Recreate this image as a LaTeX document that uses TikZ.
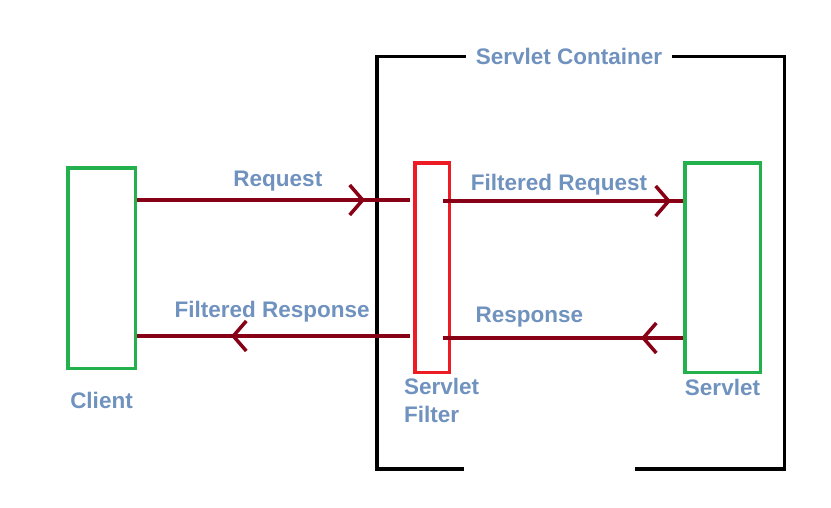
\documentclass[tikz,border=0pt]{standalone}
\usepackage{fontspec}
\setmainfont{Liberation Sans}
\usetikzlibrary{positioning,arrows.meta,decorations.markings}
\definecolor{flowred}{HTML}{880015}
\definecolor{boxgreen}{HTML}{22B14C}
\definecolor{boxred}{HTML}{ED1C24}
\definecolor{labelblue}{HTML}{7092BE}

\begin{document}
\begin{tikzpicture}[x=1pt, y=-1pt,
  box/.style={draw, line width=3.5pt, inner sep=0pt},
  wall/.style={draw=black, line width=3.5pt},
  txt/.style={text=labelblue, inner sep=0pt,
    font=\fontsize{22.5}{28}\selectfont\bfseries},
  flow/.style={draw=flowred, line width=3.5pt},
  tipat/.style={postaction={decorate}, decoration={markings,
    mark=at position #1 with {\arrow{Straight Barb[length=13pt,width=30pt]}}}}]
  \useasboundingbox (0,0) rectangle (831,507);

  % boxes
  \node[box, draw=boxgreen, minimum width=67.5pt, minimum height=200.5pt] (client) at (101.5,268) {};
  \node[box, draw=boxred, minimum width=34.5pt, minimum height=209.5pt] (filter) at (432,267.5) {};
  \node[box, draw=boxgreen, minimum width=75.5pt, minimum height=209.5pt] (servlet) at (722.5,267.5) {};

  % container
  \node[txt, inner xsep=10pt] (title) at (569,56.5) {Servlet Container};
  \draw[wall] (title.west) -| (377,469) -- (464,469);
  \draw[wall] (635,469) -| (784.5,56.5) -- (title.east);

  % requests
  \draw[flow, tipat=228pt] (client.east |- 0,200) -- ([xshift=-3pt]filter.west |- 0,200)
    node[txt, pos=0.516, anchor=base, yshift=14pt] {Request};
  \draw[flow, tipat=228pt] ([xshift=-8pt]filter.east |- 0,201) -- (servlet.west |- 0,201)
    node[txt, pos=0.483, anchor=base, yshift=11pt] {Filtered Request};

  % responses
  \draw[flow, tipat=42pt] (servlet.west |- 0,338) -- ([xshift=-8pt]filter.east |- 0,338)
    node[txt, pos=0.64, anchor=base, yshift=16pt] {Response};
  \draw[flow, tipat=179pt] ([xshift=-3pt]filter.west |- 0,336) -- (client.east |- 0,336)
    node[txt, pos=0.505, anchor=base, yshift=19pt] {Filtered Response};

  % labels
  \node[txt, below=22pt of client] (clientlbl) {Client};
  \node[txt, below=5pt of servlet] (servletlbl) {Servlet};
  \node[txt, align=left, anchor=north west] (filterlbl) at ([xshift=-9pt, yshift=-4pt]filter.south west) {Servlet\\Filter};
\end{tikzpicture}
\end{document}
